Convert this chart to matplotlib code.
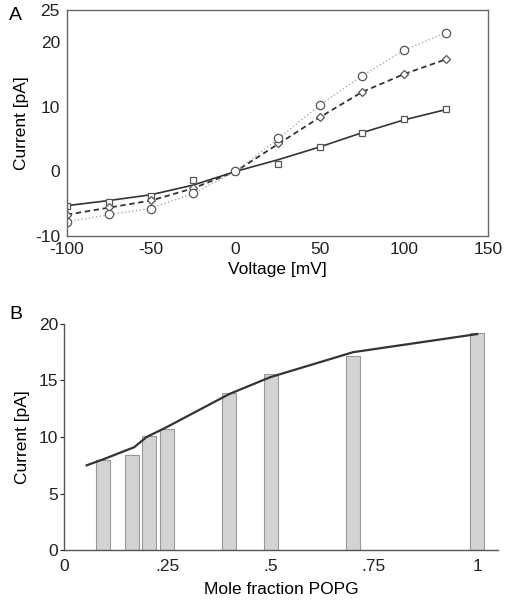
import numpy as np
import matplotlib.pyplot as plt

plt.rcParams['font.family'] = ['Liberation Sans', 'DejaVu Sans']
plt.rcParams['axes.unicode_minus'] = False

# panel A: I-V curves (measured points and the drawn curves)
voltage = [-100, -75, -50, -25, 0, 25, 50, 75, 100, 125]
cur_square = [-5.3, -4.7, -3.8, -1.3, 0.0, 1.2, 3.8, 6.0, 8.1, 9.7]
cur_diamond = [-6.7, -5.5, -4.4, -2.6, 0.0, 4.4, 8.4, 12.3, 15.1, 17.4]
cur_circle = [-7.8, -6.6, -5.8, -3.3, 0.0, 5.2, 10.3, 14.8, 18.8, 21.5]
line_square = [-5.3, -4.5, -3.6, -2.1, 0.0, 1.8, 3.8, 6.0, 8.0, 9.6]
line_diamond = [-6.7, -5.6, -4.5, -2.6, 0.0, 4.2, 8.4, 12.3, 15.1, 17.4]
line_circle = [-7.8, -6.7, -5.7, -3.4, 0.0, 5.0, 10.3, 14.8, 18.8, 21.5]

# panel B: current vs mole fraction
mole_frac = [0.095, 0.165, 0.205, 0.25, 0.4, 0.5, 0.7, 1.0]
bar_current = [8.0, 8.4, 10.1, 10.7, 13.9, 15.6, 17.2, 19.2]
fit_x = [0.055, 0.1, 0.17, 0.2, 0.25, 0.4, 0.5, 0.7, 1.0]
fit_y = [7.5, 8.1, 9.1, 10.0, 10.9, 13.8, 15.3, 17.5, 19.1]

fs = 12.5

fig = plt.figure(figsize=(5.07, 6.02), dpi=100)

# ---------- A ----------
ax = fig.add_axes([0.132, 0.608, 0.831, 0.375])
ax.plot(voltage, line_square, color="#333333", lw=1.2, ls='-')
ax.plot(voltage, line_diamond, color="#333333", lw=1.3, ls=(0, (3, 2)))
ax.plot(voltage, line_circle, color="#aaaaaa", lw=1.0, ls=':')
mk = dict(ls='none', mfc='white', mec='#555555', mew=0.9)
ax.plot(voltage, cur_square, marker='s', ms=5, **mk)
ax.plot(voltage, cur_diamond, marker='D', ms=4.5, **mk)
ax.plot(voltage, cur_circle, marker='o', ms=6, **mk)
ax.set_xlim(-100, 150)
ax.set_ylim(-10, 25)
ax.set_xticks([-100, -50, 0, 50, 100, 150])
ax.set_yticks([-10, 0, 10, 20, 25])
ax.tick_params(axis='y', length=0, labelsize=fs, pad=5, colors='#222222')
ax.tick_params(axis='x', length=0, labelsize=fs, pad=4, colors='#222222')
for s in ax.spines.values():
    s.set_color('#666666')
    s.set_linewidth(1.0)
ax.set_xlabel('Voltage [mV]', fontsize=fs, labelpad=4)
ax.set_ylabel('Current [pA]', fontsize=fs, labelpad=4)
fig.text(0.018, 0.975, 'A', fontsize=14, va='center')

# ---------- B ----------
bx = fig.add_axes([0.126, 0.086, 0.856, 0.376])
bx.bar(mole_frac, bar_current, width=0.034, color='#d3d3d3',
       edgecolor='#999999', lw=0.8)
bx.plot(fit_x, fit_y, color='#333333', lw=1.6)
bx.set_xlim(0, 1.05)
bx.set_ylim(0, 20)
bx.set_xticks([0, 0.25, 0.5, 0.75, 1.0])
bx.set_xticklabels(['0', '.25', '.5', '.75', '1'])
bx.set_yticks([0, 5, 10, 15, 20])
bx.spines['top'].set_visible(False)
bx.spines['right'].set_visible(False)
for s in ['left', 'bottom']:
    bx.spines[s].set_color('#555555')
    bx.spines[s].set_linewidth(1.0)
bx.tick_params(axis='y', length=3, labelsize=fs, pad=1, colors='#222222')
bx.tick_params(axis='x', length=0, labelsize=fs, pad=6, colors='#222222')
bx.set_xlabel('Mole fraction POPG', fontsize=fs, labelpad=6)
bx.set_ylabel('Current [pA]', fontsize=fs, labelpad=6)
fig.text(0.018, 0.477, 'B', fontsize=14, va='center')

fig.savefig('out.png', dpi=100)
